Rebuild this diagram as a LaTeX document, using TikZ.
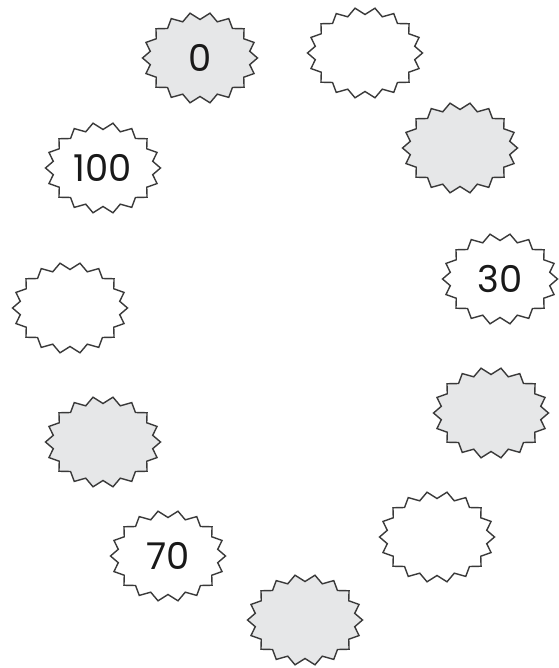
\documentclass[tikz,border=0pt]{standalone}
\usepackage{fontspec}
\setmainfont{Poppins}
\usepackage{xcolor}
\usepackage{tikz}
\definecolor{burstgray}{HTML}{E6E7E8}
\definecolor{burstline}{HTML}{3A3A3A}
% #1 style, #2 centre, #3 name, #4 text
\newcommand{\burstat}[4]{%
  \filldraw[#1, shift={(#2)}] (0:0.575 and 0.455)
    \foreach \a in {20,40,...,340} {-- (\a-10:0.505 and 0.385) -- (\a:0.575 and 0.455)}
    -- (350:0.505 and 0.385) -- cycle;
  \node[digit] (#3) at (#2) {#4};}

\begin{document}
\begin{tikzpicture}[
  burst/.style={draw=burstline, line width=0.4pt, fill=white},
  shaded/.style={burst, fill=burstgray},
  digit/.style={inner sep=0pt, font=\fontsize{10.5}{12}\selectfont, text=black!90}
]
\useasboundingbox (0,0) rectangle (5.58,-6.68);

\burstat{shaded}{2.00,-0.58}{zero}{0}
\burstat{burst}{3.65,-0.53}{topright}{}
\burstat{shaded}{4.60,-1.48}{rightup}{}
\burstat{burst}{5.00,-2.79}{thirty}{30}
\burstat{shaded}{4.91,-4.13}{rightlow}{}
\burstat{burst}{4.37,-5.37}{lowright}{}
\burstat{shaded}{3.05,-6.20}{bottom}{}
\burstat{burst}{1.68,-5.56}{seventy}{70}
\burstat{shaded}{1.03,-4.42}{leftlow}{}
\burstat{burst}{0.70,-3.08}{left}{}
\burstat{burst}{1.03,-1.68}{hundred}{100}
\end{tikzpicture}
\end{document}
